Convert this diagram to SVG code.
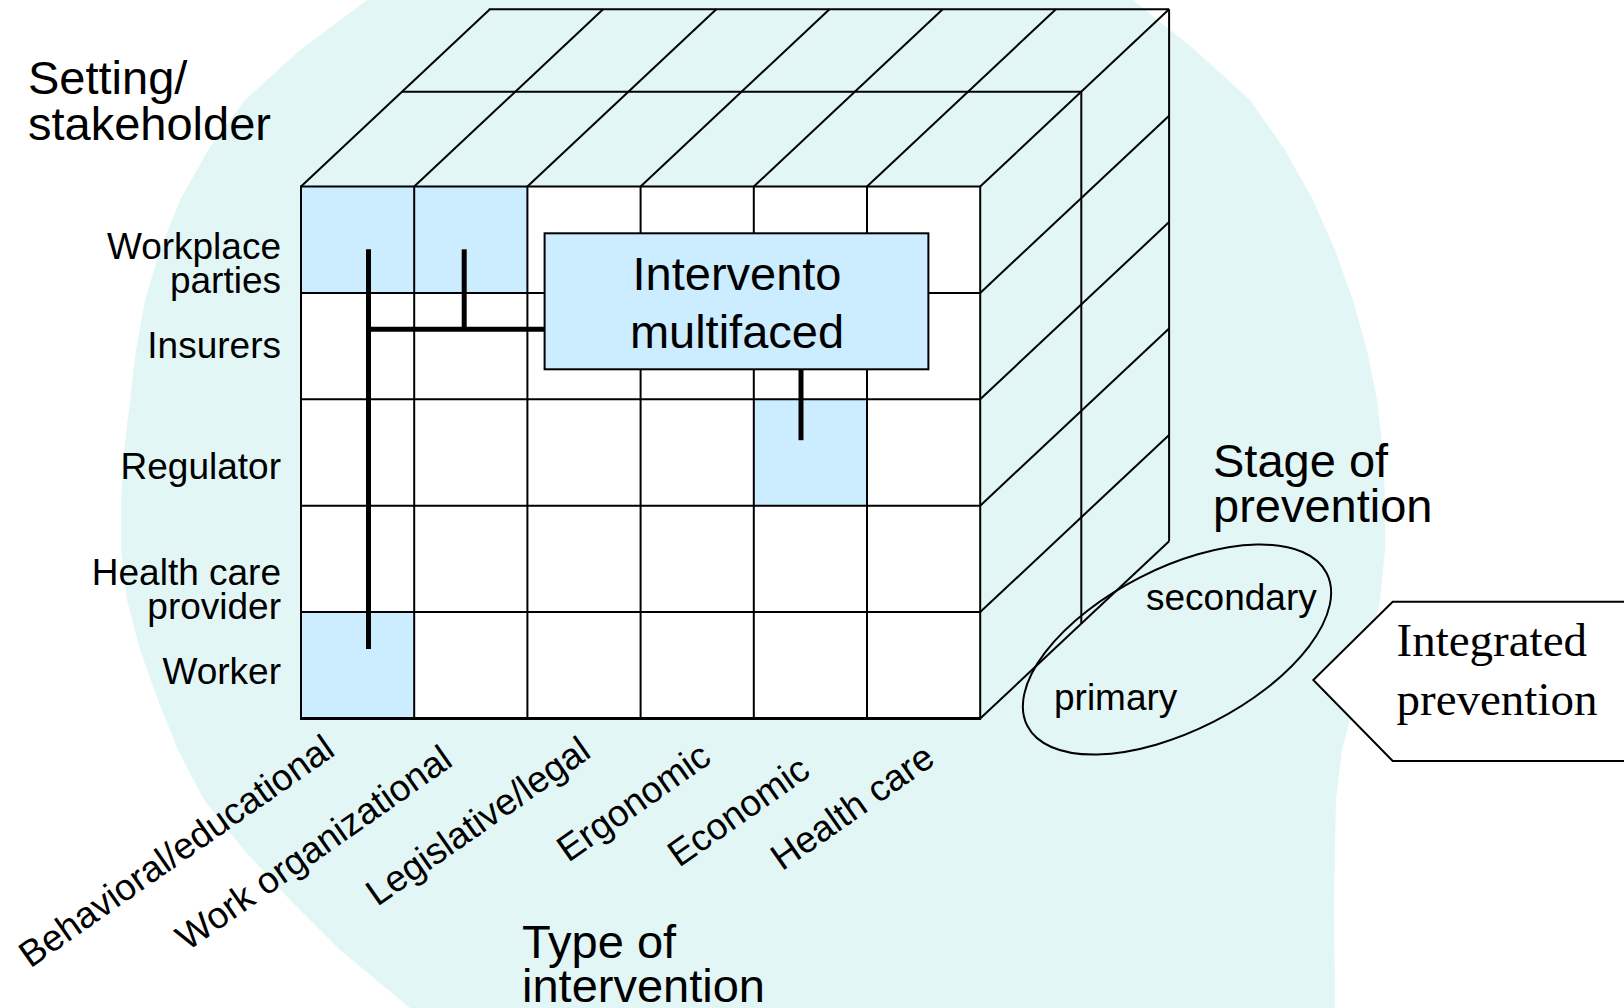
<svg xmlns="http://www.w3.org/2000/svg" width="1624" height="1008" viewBox="0 0 1624 1008">
<style>
  .ln { stroke: #000; stroke-width: 2; fill: none; }
  .cell { fill: #ffffff; }
  .hl { fill: #CCECFF; }
  .conn { stroke: #000; stroke-width: 5; fill: none; stroke-linecap: butt; }
  .sans { font-family: "Liberation Sans", Arial, sans-serif; fill: #000; }
  .serif { font-family: "Liberation Serif", "Times New Roman", serif; fill: #000; }
  .big { font-size: 47px; }
  .mid { font-size: 37px; }
</style>
<rect x="0" y="0" width="1624" height="1008" fill="#ffffff"/>
<g id="watermark">
  <path fill="#E3F6F6" d="M367,0 L300,50 245,100 208,150 180,200 160,250 145,300 136,350 130,400 124,450 121,500 121,550 127,600 140,650 158,700 178,750 204,800 244,850 290,900 340,950 410,1008 L1335,1008 1334,900 1336,800 1342,750 1355,700 1370,650 1380,600 1385,550 1385,500 1383,450 1377,400 1367,350 1353,300 1335,250 1313,200 1285,150 1250,100 1195,50 1133,0 Z"/>
</g>
<g id="cube">
  <g id="top-face" class="ln">
    <line x1="488.8" y1="9.3" x2="1169.1" y2="9.3"/>
    <line x1="402.1" y1="91.7" x2="1081.3" y2="91.7"/>
    <line x1="301" y1="186.5" x2="489.9" y2="9.3"/>
    <line x1="414.2" y1="186.5" x2="603.1" y2="9.3"/>
    <line x1="527.4" y1="186.5" x2="716.3" y2="9.3"/>
    <line x1="640.6" y1="186.5" x2="829.5" y2="9.3"/>
    <line x1="753.8" y1="186.5" x2="942.7" y2="9.3"/>
    <line x1="867" y1="186.5" x2="1055.9" y2="9.3"/>
    <line x1="980.2" y1="186.5" x2="1169.1" y2="9.3"/>
  </g>
  <g id="right-face" class="ln">
    <line x1="1169.1" y1="9.3" x2="1169.1" y2="541.3"/>
    <line x1="1081.3" y1="91.7" x2="1081.3" y2="623.7"/>
    <line x1="980.2" y1="292.9" x2="1169.1" y2="115.7"/>
    <line x1="980.2" y1="399.3" x2="1169.1" y2="222.1"/>
    <line x1="980.2" y1="505.7" x2="1169.1" y2="328.5"/>
    <line x1="980.2" y1="612.1" x2="1169.1" y2="434.9"/>
    <line x1="980.2" y1="718.5" x2="1169.1" y2="541.3"/>
  </g>
  <g id="front-face">
    <rect class="cell" x="301" y="186.5" width="679.2" height="532"/>
    <rect class="hl" x="301" y="186.5" width="113.2" height="106.4"/>
    <rect class="hl" x="414.2" y="186.5" width="113.2" height="106.4"/>
    <rect class="hl" x="753.8" y="399.3" width="113.2" height="106.4"/>
    <rect class="hl" x="301" y="612.1" width="113.2" height="106.4"/>
    <g class="ln">
      <line x1="414.2" y1="186.5" x2="414.2" y2="718.5"/>
      <line x1="527.4" y1="186.5" x2="527.4" y2="718.5"/>
      <line x1="640.6" y1="186.5" x2="640.6" y2="718.5"/>
      <line x1="753.8" y1="186.5" x2="753.8" y2="718.5"/>
      <line x1="867" y1="186.5" x2="867" y2="718.5"/>
      <line x1="301" y1="292.9" x2="980.2" y2="292.9"/>
      <line x1="301" y1="399.3" x2="980.2" y2="399.3"/>
      <line x1="301" y1="505.7" x2="980.2" y2="505.7"/>
      <line x1="301" y1="612.1" x2="980.2" y2="612.1"/>
      <rect x="301" y="186.5" width="679.2" height="532"/>
      <line x1="300" y1="718.5" x2="981" y2="718.5" stroke-width="3"/>
    </g>
  </g>
</g>
<g id="connectors">
  <line class="conn" x1="368.5" y1="249.3" x2="368.5" y2="649"/>
  <line class="conn" x1="464.2" y1="249.3" x2="464.2" y2="329.3"/>
  <line class="conn" x1="366" y1="329.3" x2="544.6" y2="329.3"/>
  <line class="conn" x1="801" y1="369.3" x2="801" y2="440.2"/>
</g>
<g id="box-intervento">
  <rect x="544.6" y="233.3" width="383.8" height="136" fill="#CCECFF" stroke="#000" stroke-width="2"/>
  <text class="sans big" x="737" y="290" text-anchor="middle">Intervento</text>
  <text class="sans big" x="737" y="348.3" text-anchor="middle">multifaced</text>
</g>
<g id="title-setting">
  <text class="sans big" x="28" y="94">Setting/</text>
  <text class="sans big" x="28" y="139.5">stakeholder</text>
</g>
<g id="row-labels" class="sans mid" text-anchor="end">
  <text x="281" y="259.3">Workplace</text>
  <text x="281" y="293.3">parties</text>
  <text x="281" y="358.3">Insurers</text>
  <text x="281" y="479.3">Regulator</text>
  <text x="281" y="585">Health care</text>
  <text x="281" y="619.3">provider</text>
  <text x="281" y="684.3">Worker</text>
</g>
<g id="column-labels" class="sans mid" text-anchor="middle">
  <text transform="translate(183.5,861.4) rotate(-35)">Behavioral/educational</text>
  <text transform="translate(320.9,858.1) rotate(-35)">Work organizational</text>
  <text transform="translate(485,831.4) rotate(-35)">Legislative/legal</text>
  <text transform="translate(640.8,812.3) rotate(-35)">Ergonomic</text>
  <text transform="translate(745.5,821.5) rotate(-35)">Economic</text>
  <text transform="translate(859.4,817.3) rotate(-35)">Health care</text>
</g>
<g id="title-type">
  <text class="sans big" x="522" y="958.3">Type of</text>
  <text class="sans big" x="522" y="1002">intervention</text>
</g>
<g id="title-stage">
  <text class="sans big" x="1213" y="477">Stage of</text>
  <text class="sans big" x="1213" y="521.5">prevention</text>
</g>
<g id="stage-ellipse">
  <ellipse cx="1177" cy="649.5" rx="168" ry="81" transform="rotate(-27 1177 649.5)" fill="none" stroke="#000" stroke-width="2"/>
  <text class="sans mid" x="1146" y="610">secondary</text>
  <text class="sans mid" x="1054" y="710">primary</text>
</g>
<g id="integrated-prevention">
  <polygon points="1640,601.7 1392.7,601.7 1313.3,680 1392.7,761 1640,761" fill="#ffffff" stroke="#000" stroke-width="2"/>
  <text class="serif big" x="1396.5" y="656">Integrated</text>
  <text class="serif big" x="1396.5" y="715">prevention</text>
</g>
</svg>
